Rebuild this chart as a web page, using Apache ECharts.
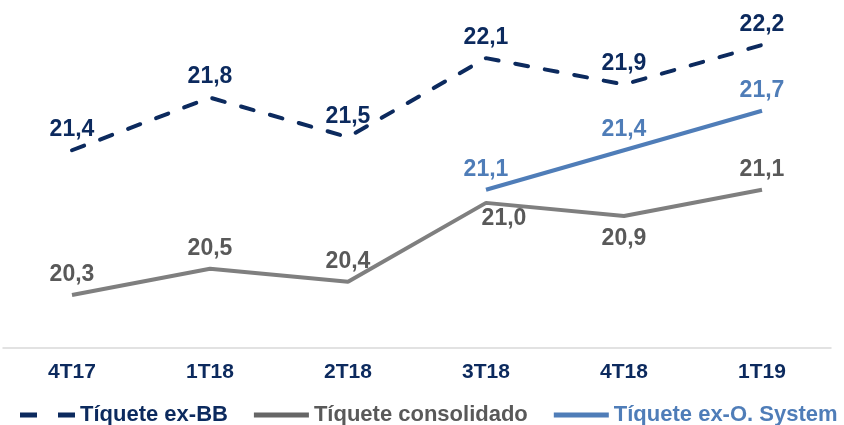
<!DOCTYPE html>
<html>
<head>
<meta charset="utf-8">
<script src="https://cdn.jsdelivr.net/npm/echarts@6/dist/echarts.min.js"></script>
<style>
html,body{margin:0;padding:0;background:#fff;}
#c{width:844px;height:425px;}
</style>
</head>
<body>
<div id="c"></div>
<script>
var categories = ['4T17', '1T18', '2T18', '3T18', '4T18', '1T19'];
var exBB = [21.4, 21.8, 21.5, 22.1, 21.9, 22.2];
var consolidado = [20.3, 20.5, 20.4, 21.0, 20.9, 21.1];
var exOSystem = ['-', '-', '-', 21.1, 21.4, 21.7];
var seriesNames = ['Tíquete ex-BB', 'Tíquete consolidado', 'Tíquete ex-O. System'];

var NAVY = '#0c2a5e', GRAY = '#7f7f7f', GRAYTXT = '#595959', BLUE = '#4f7db8';
var FONT = 'Liberation Sans, Arial, sans-serif';

function fmt(p) { return Number(p.value).toFixed(1).replace('.', ','); }

var consData = consolidado.map(function (v, i) {
  if (i === 3) return { value: v, label: { position: 'bottom', distance: 4, offset: [18, 0] } };
  if (i === 4) return { value: v, label: { position: 'bottom', distance: 11 } };
  return v;
});

var chart = echarts.init(document.getElementById('c'));
chart.setOption({
  animation: false,
  grid: { left: 3, right: 13, top: 0, bottom: 77 },
  xAxis: {
    type: 'category',
    data: categories,
    boundaryGap: true,
    axisTick: { show: false },
    axisLine: { lineStyle: { color: '#d9d9d9', width: 1.5 } },
    axisLabel: { margin: 14, color: NAVY, fontSize: 21, fontWeight: 'bold', fontFamily: FONT }
  },
  yAxis: {
    type: 'value', min: 19.897, max: 22.542, show: false,
    splitLine: { show: false }
  },
  legend: {
    left: 15, top: 399, width: 900,
    itemWidth: 55, itemHeight: 5, itemGap: 26,
    textStyle: { fontSize: 22, fontWeight: 'bold', fontFamily: FONT },
    data: [
      { name: seriesNames[0], icon: 'path://M0,0h17v5h-17z M38,0h17v5h-17z', itemStyle: { color: NAVY }, textStyle: { color: NAVY } },
      { name: seriesNames[1], icon: 'rect', itemStyle: { color: '#666666' }, textStyle: { color: GRAYTXT } },
      { name: seriesNames[2], icon: 'rect', itemStyle: { color: BLUE }, textStyle: { color: BLUE } }
    ]
  },
  series: [
    {
      name: seriesNames[0], type: 'line', data: exBB, symbol: 'circle', symbolSize: 0,
      lineStyle: { color: NAVY, width: 4, type: [13, 17], cap: 'round' },
      itemStyle: { color: NAVY },
      label: { show: true, position: 'top', distance: 9, formatter: fmt, color: NAVY, fontSize: 23, fontWeight: 'bold', fontFamily: FONT }
    },
    {
      name: seriesNames[1], type: 'line', data: consData, symbol: 'circle', symbolSize: 0,
      lineStyle: { color: GRAY, width: 4 },
      itemStyle: { color: GRAY },
      label: { show: true, position: 'top', distance: 9, formatter: fmt, color: GRAYTXT, fontSize: 23, fontWeight: 'bold', fontFamily: FONT }
    },
    {
      name: seriesNames[2], type: 'line', data: exOSystem, symbol: 'circle', symbolSize: 0,
      lineStyle: { color: BLUE, width: 4 },
      itemStyle: { color: BLUE },
      label: { show: true, position: 'top', distance: 9, formatter: fmt, color: BLUE, fontSize: 23, fontWeight: 'bold', fontFamily: FONT }
    }
  ]
});
</script>
</body>
</html>
